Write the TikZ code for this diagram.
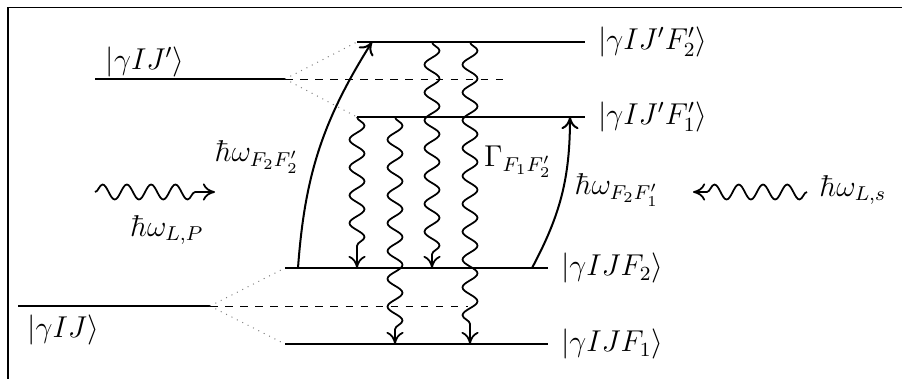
\documentclass[tikz,border=0pt]{standalone}
\usepackage{amsmath}
\usetikzlibrary{arrows.meta, decorations.pathmorphing, positioning, calc}

\begin{document}
\begin{tikzpicture}[
    x=0.014cm, y=0.014cm,
    level/.style={semithick},
    split/.style={dotted, gray},
    center/.style={dashed},
    pump/.style={-{To[length=1.7mm, width=2.4mm]}, thick},
    decay/.style={-{To[length=1.7mm, width=2.4mm]}, line width=0.7pt, decorate,
        decoration={snake, amplitude=1.05mm, segment length=3.9mm, post length=1.7mm}},
    lbl/.style={inner sep=1pt, font=\large}
]
\useasboundingbox (0,0) rectangle (902,378);

% --- Rahmen (rechts und unten abgeschnitten) ---
\draw (8,371) -- (8,-60);
\draw (8,371) -- (960,371);

% --- Feinstruktur: J' und J ---
\coordinate (Jpl) at (95,299);  \coordinate (Jpr) at (285,299);
\coordinate (Jl)  at (18,72);   \coordinate (Jr)  at (210,72);

% --- Hyperfeinniveaus ---
\coordinate (F2pl) at (357,336); \coordinate (F2pr) at (585,336);
\coordinate (F1pl) at (357,261); \coordinate (F1pr) at (585,261);
\coordinate (F2l)  at (285,110); \coordinate (F2r)  at (548,110);
\coordinate (F1l)  at (285,34);  \coordinate (F1r)  at (548,34);

\draw[level] (Jpl) -- (Jpr);
\draw[level] (Jl) -- (Jr);
\draw[level] (F2pl) -- (F2pr);
\draw[level] (F1pl) -- (F1pr);
\draw[level] (F2l) -- (F2r);
\draw[level] (F1l) -- (F1r);

% Aufspaltung
\draw[split] (Jpr) -- (F2pl);
\draw[split] (Jpr) -- (F1pl);
\draw[split] (Jr) -- (F2l);
\draw[split] (Jr) -- (F1l);
\coordinate (Jpc) at (510,299);
\coordinate (Jc)  at (468,72);
\draw[center] (Jpr) -- (Jpc);
\draw[center] (Jr) -- (Jc);

% Zustaende
\node[lbl] (sJp)  at (145,316) {$|\gamma I J'\rangle$};
\node[lbl] (sJ)   at (63,48)   {$|\gamma I J\rangle$};
\node[lbl, right=4pt of F2pr] (sF2p) {$|\gamma I J' F_2'\rangle$};
\node[lbl, right=4pt of F1pr] (sF1p) {$|\gamma I J' F_1'\rangle$};
\node[lbl, right=4pt of F2r]  (sF2)  {$|\gamma I J F_2\rangle$};
\node[lbl, right=4pt of F1r]  (sF1)  {$|\gamma I J F_1\rangle$};

% === Anregung ===
\coordinate (a1) at (298,110); \coordinate (b1) at (372,336);
\coordinate (a2) at (532,110); \coordinate (b2) at (570,261);
\draw[pump] (a1) to[bend left=14] (b1);
\draw[pump] (a2) to[bend right=14] (b2);
\node[lbl] (w22) at (257,221) {$\hbar\omega_{F_2F_2'}$};
\node[lbl] (w21) at (617,188) {$\hbar\omega_{F_2F_1'}$};

% === Zerfall ===
\foreach \x/\top/\bot in {357/261/110, 395/261/34, 432/336/110, 470/336/34}
    \draw[decay] (\x,\top) -- (\x,\bot);
\node[lbl] (gam) at (518,216) {$\Gamma_{F_1F_2'}$};

% === Laser ===
\coordinate (lp1) at (95,186);  \coordinate (lp2) at (215,186);
\coordinate (ls1) at (807,186); \coordinate (ls2) at (693,186);
\draw[decay, decoration={segment length=3.4mm}] (lp1) -- (lp2);
\draw[decay, decoration={segment length=3.4mm}] (ls1) -- (ls2);
\node[lbl] (wLP) at (167,148) {$\hbar\omega_{L,P}$};
\node[lbl] (wLs) at (853,188) {$\hbar\omega_{L,s}$};

\end{tikzpicture}
\end{document}
